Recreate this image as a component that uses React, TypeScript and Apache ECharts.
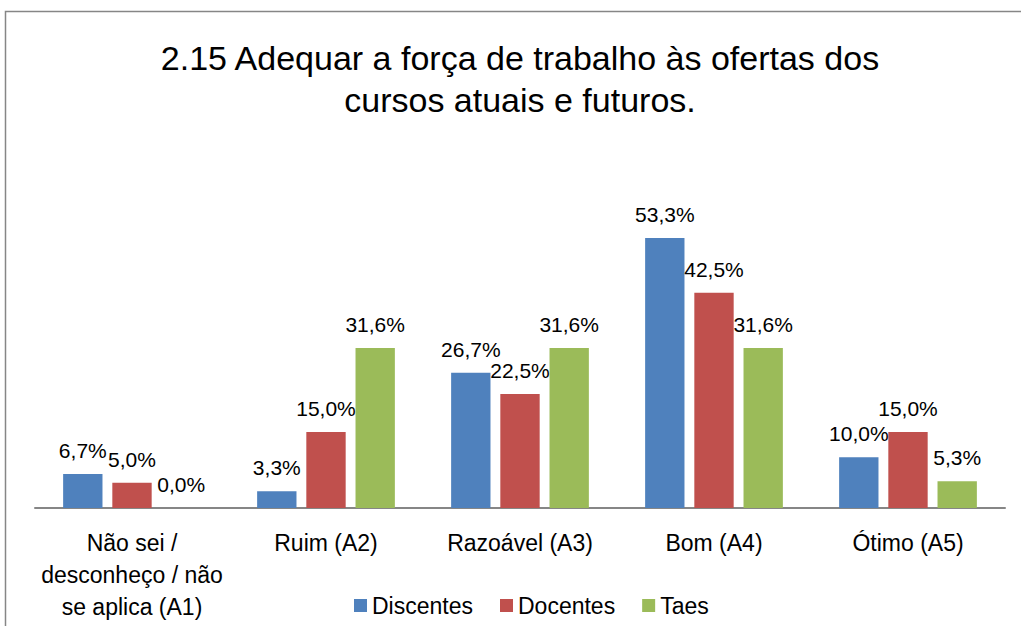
import React, { useEffect, useRef } from "react";
import * as echarts from "echarts";

const titleLines = ["2.15 Adequar a força de trabalho às ofertas dos", "cursos atuais e futuros."];
const categories = ["Não sei /\ndesconheço / não\nse aplica (A1)", "Ruim (A2)", "Razoável (A3)", "Bom (A4)", "Ótimo (A5)"];
const seriesNames = ["Discentes", "Docentes", "Taes"];
const discentes = [6.7, 3.3, 26.7, 53.3, 10.0];
const docentes = [5.0, 15.0, 22.5, 42.5, 15.0];
const taes = [0.0, 31.6, 31.6, 31.6, 5.3];
const colors = ["#4F81BD", "#C0504D", "#9BBB59"];

const FONT = "Liberation Sans";

export default function App() {
  const ref = useRef<HTMLDivElement>(null);
  useEffect(() => {
    document.body.style.margin = "0";
    const chart = echarts.init(ref.current!, undefined, { renderer: "svg" });
    const values = [discentes, docentes, taes];
    chart.setOption({
      animation: false,
      backgroundColor: "#ffffff",
      textStyle: { fontFamily: FONT },
      graphic: [
        {
          type: "rect",
          shape: { x: 5.5, y: 11.5, width: 1100, height: 700 },
          style: { fill: "none", stroke: "#868686", lineWidth: 1.5 },
          silent: true,
        },
        {
          type: "text",
          x: 520,
          y: 58,
          style: {
            text: titleLines[0],
            fontSize: 34,
            fontFamily: FONT,
            fill: "#000",
            textAlign: "center",
            textVerticalAlign: "middle",
          },
        },
        {
          type: "text",
          x: 520,
          y: 100,
          style: {
            text: titleLines[1],
            fontSize: 34,
            fontFamily: FONT,
            fill: "#000",
            textAlign: "center",
            textVerticalAlign: "middle",
          },
        },
      ],
      legend: {
        left: 349,
        top: 589,
        itemWidth: 13,
        itemHeight: 13,
        itemGap: 27,
        icon: "rect",
        textStyle: { fontSize: 23, fontFamily: FONT, color: "#000" },
        data: seriesNames,
      },
      grid: { left: 35, right: 16, top: 204, bottom: 118, containLabel: false },
      xAxis: {
        type: "category",
        data: categories,
        axisLine: { lineStyle: { color: "#868686", width: 2 } },
        axisTick: { show: false },
        axisLabel: {
          interval: 0,
          fontSize: 23,
          lineHeight: 32,
          margin: 19,
          color: "#000",
          fontFamily: FONT,
        },
      },
      yAxis: {
        type: "value",
        min: 0,
        max: 60,
        show: false,
        splitLine: { show: false },
      },
      series: seriesNames.map((name, i) => ({
        name,
        type: "bar",
        data: values[i],
        barGap: "25%",
        barCategoryGap: "29%",
        itemStyle: { color: colors[i] },
        label: {
          show: true,
          position: "top",
          distance: 13,
          fontSize: 21,
          fontFamily: FONT,
          color: "#000",
          formatter: (p: any) => p.value.toFixed(1).replace(".", ",") + "%",
        },
      })),
    });
    return () => chart.dispose();
  }, []);
  return <div ref={ref} style={{ width: 1021, height: 626 }} />;
}
